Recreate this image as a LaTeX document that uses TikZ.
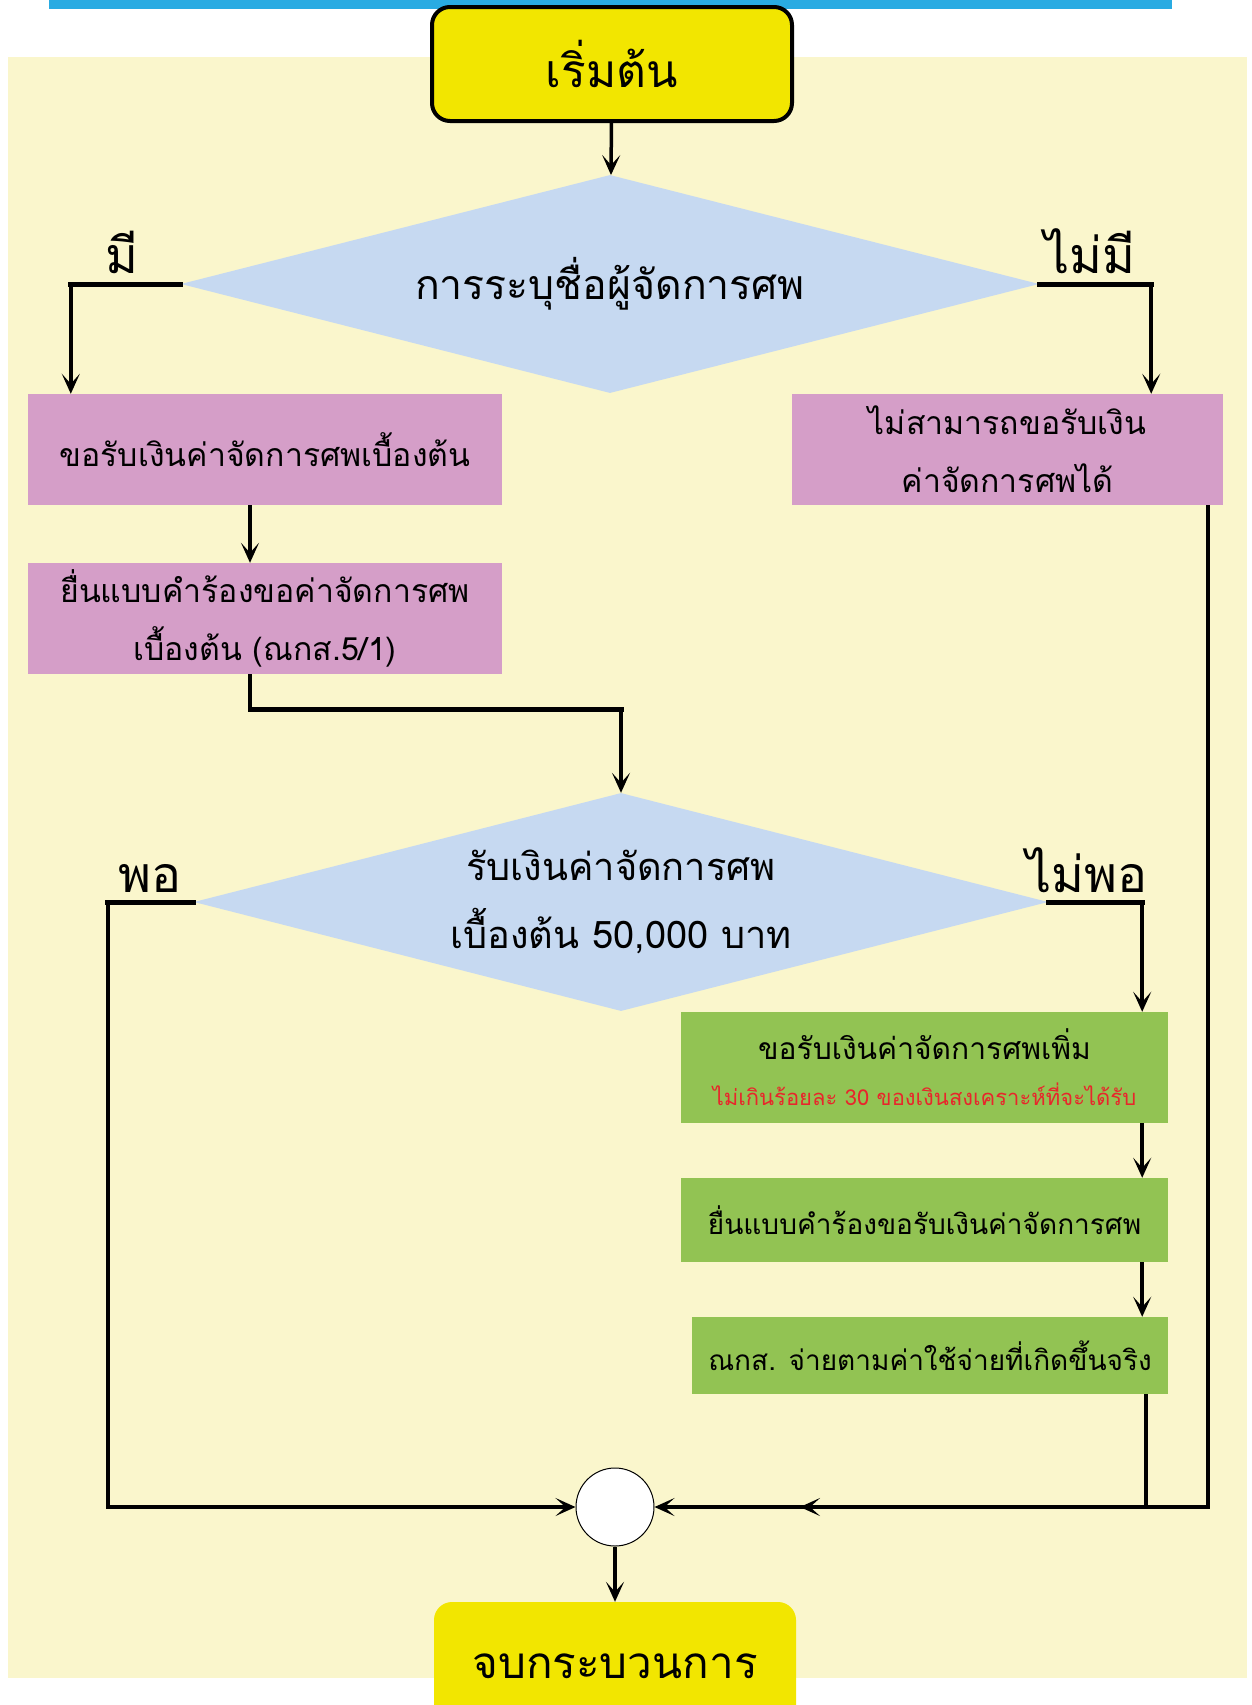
\documentclass[tikz,border=0pt]{standalone}
\usepackage{fontspec}
\setmainfont[Script=Thai]{Loma}
\usetikzlibrary{shapes.geometric,arrows.meta}
\definecolor{barblue}{RGB}{41,171,226}
\definecolor{paper}{RGB}{250,246,204}
\definecolor{termyellow}{RGB}{242,230,0}
\definecolor{askblue}{RGB}{198,217,241}
\definecolor{boxpink}{RGB}{213,158,200}
\definecolor{boxgreen}{RGB}{146,195,83}
\definecolor{notered}{RGB}{232,38,43}
\begin{document}
\begin{tikzpicture}[x=1pt, y=-1pt,
    >={Stealth[length=20pt,width=18pt,inset=10pt]},
    arr/.style={->, line width=3.5pt},
    lead/.style={line width=5pt, line cap=rect},
    terminal/.style={rounded corners=18pt, fill=termyellow, minimum width=360pt, inner sep=0pt},
    ask/.style={diamond, fill=askblue, shape aspect=3.9, inner sep=0pt, align=center},
    pinkbox/.style={fill=boxpink, minimum width=474pt, minimum height=111pt, align=center, font=\fontsize{32}{58}\selectfont},
    greenbox/.style={fill=boxgreen, minimum width=487pt, align=center, font=\fontsize{30}{46}\selectfont},
    answer/.style={anchor=base, font=\fontsize{50}{50}\selectfont}]
    \useasboundingbox (0,0) rectangle (1251,1705);
    \fill[paper] (8,57) rectangle (1247,1678);
    \fill[barblue] (49,0) rectangle (1172,9);
    % start and first question
    \node[terminal, draw, line width=4pt, minimum height=114pt] (start) at (612,64) {\fontsize{46}{46}\selectfont เริ่มต้น};
    \node[ask, minimum width=858pt, minimum height=218pt, font=\fontsize{41}{41}\selectfont] (q1) at (610,284) {การระบุชื่อผู้จัดการศพ};
    \node[answer] (have) at (122,273) {มี};
    \node[answer] (havenot) at (1090,273) {ไม่มี};
    % pink steps
    \node[pinkbox] (grant) at (265,449.5) {ขอรับเงินค่าจัดการศพเบื้องต้น};
    \node[pinkbox, minimum width=431pt] (refuse) at (1007.5,449.5) {ไม่สามารถขอรับเงิน\\ค่าจัดการศพได้};
    \node[pinkbox] (form) at (265,618.5) {ยื่นแบบคำร้องขอค่าจัดการศพ\\เบื้องต้น (ณกส.5/1)};
    % second question
    \node[ask, minimum width=854pt, minimum height=218pt, font=\fontsize{38}{68}\selectfont] (q2) at (621,902) {รับเงินค่าจัดการศพ\\เบื้องต้น 50,000 บาท};
    \node[answer] (enough) at (150,892) {พอ};
    \node[answer] (short) at (1087,892) {ไม่พอ};
    % green steps
    \node[greenbox, minimum height=111pt] (extra) at (924.5,1067.5) {ขอรับเงินค่าจัดการศพเพิ่ม\\{\color{notered}\fontsize{22}{46}\selectfont ไม่เกินร้อยละ 30 ของเงินสงเคราะห์ที่จะได้รับ}};
    \node[greenbox, minimum height=84pt, font=\fontsize{28}{28}\selectfont] (claim) at (924.5,1220) {ยื่นแบบคำร้องขอรับเงินค่าจัดการศพ};
    \node[greenbox, minimum width=476pt, minimum height=77pt, font=\fontsize{28}{28}\selectfont] (pay) at (930,1355.5) {ณกส. จ่ายตามค่าใช้จ่ายที่เกิดขึ้นจริง};
    % join and end
    \node[circle, draw, fill=white, line width=1pt, minimum size=78pt, inner sep=0pt] (join) at (615,1507) {};
    \node[terminal, minimum width=362pt, minimum height=128pt, font=\fontsize{44}{44}\selectfont] (finish) at (615,1666) {จบกระบวนการ};
    \coordinate (merge) at (800,1507);
    % connectors
    \draw[arr] (start) -- (q1);
    \draw[lead] (q1.west) -- ++(-110,0) coordinate (haveturn);
    \draw[arr] (haveturn) -- (haveturn |- grant.north);
    \draw[lead] (q1.east) -- ++(112,0) coordinate (havenotturn);
    \draw[arr] (havenotturn) -- (havenotturn |- refuse.north);
    \draw[arr] ([xshift=-15pt]grant.south) -- ([xshift=-15pt]form.north);
    \draw[line width=3.5pt] ([xshift=-15pt]form.south) -- ++(0,35) coordinate (formturn);
    \draw[lead] (formturn) -- (formturn -| q2.north);
    \draw[arr] (formturn -| q2.north) -- (q2.north);
    \draw[lead] (q2.west) -- ++(-86,0) coordinate (enoughturn);
    \draw[arr] (enoughturn) |- (join.west);
    \draw[lead] (q2.east) -- ++(94,0) coordinate (shortturn);
    \draw[arr] (shortturn) -- (shortturn |- extra.north);
    \draw[arr] ([xshift=-26pt]extra.south east) -- ([xshift=-26pt]claim.north east);
    \draw[arr] ([xshift=-26pt]claim.south east) -- ([xshift=-26pt]pay.north east);
    \draw[arr] ([xshift=-22pt]pay.south east) |- (join.east);
    \draw[arr] ([xshift=-15pt]refuse.south east) |- (merge);
    \draw[arr] (join) -- (finish);
\end{tikzpicture}
\end{document}
